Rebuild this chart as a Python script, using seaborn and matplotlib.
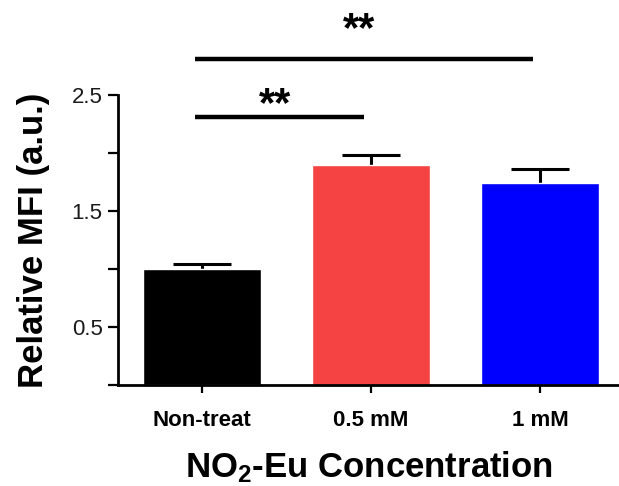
import matplotlib
matplotlib.use("Agg")
import matplotlib.pyplot as plt
import seaborn as sns
import pandas as pd

categories = ["Non-treat", "0.5 mM", "1 mM"]
values = [1.00, 1.90, 1.74]
errors = [0.04, 0.085, 0.12]
colors = ["#000000", "#F54343", "#0000FF"]
y_major = [0.5, 1.5, 2.5]
y_minor = [0.0, 1.0, 2.0]
sig_pairs = [(0, 1, 2.31, 2.41), (0, 2, 2.81, 3.06)]
sig_text = "**"

sns.set_theme(style="white")
plt.rcParams["font.family"] = ["Liberation Sans", "DejaVu Sans"]
plt.rcParams["text.color"] = "black"
plt.rcParams["axes.labelcolor"] = "black"
plt.rcParams["xtick.color"] = "black"
plt.rcParams["ytick.color"] = "black"
plt.rcParams["mathtext.fontset"] = "custom"
plt.rcParams["mathtext.bf"] = "Liberation Sans:bold"
plt.rcParams["mathtext.rm"] = "Liberation Sans:bold"
plt.rcParams["mathtext.default"] = "bf"

df = pd.DataFrame({"cat": categories, "val": values})

fig = plt.figure(figsize=(6.19, 4.86), dpi=100)
ax = fig.add_axes([118/619, 1-385/486, 1-118/619, (385-95)/486])

sns.barplot(data=df, x="cat", y="val", hue="cat", palette=colors, legend=False,
            width=0.70, ax=ax, errorbar=None, saturation=1, zorder=2)
ax.errorbar(range(len(categories)), values,
            yerr=[[0.02]*len(errors), errors], fmt="none", ecolor="black",
            elinewidth=2.2, capsize=21, capthick=2.2, zorder=1)

ax.set_ylim(0, 2.5)
ax.set_xlim(-0.497, 2.467)
ax.set_yticks(y_major)
ax.set_yticklabels([str(v) for v in y_major])
ax.set_yticks(y_minor, minor=True)

for s in ["top", "right"]:
    ax.spines[s].set_visible(False)
for s in ["left", "bottom"]:
    ax.spines[s].set_color("black")
    ax.spines[s].set_linewidth(2.0)

ax.tick_params(axis="y", which="both", direction="out", length=7, width=1.6,
               color="black", left=True, labelsize=16, pad=4, labelcolor="#1a1a1a")
ax.tick_params(axis="x", direction="out", length=6, width=1.6, color="black",
               bottom=True, labelsize=16, pad=12, labelcolor="black")
for lab in ax.get_xticklabels():
    lab.set_fontweight("bold")

ax.set_xlabel("NO$_2$-Eu Concentration", fontsize=25, fontweight="bold", labelpad=13)
ax.set_ylabel("Relative MFI (a.u.)", fontsize=25, fontweight="bold", labelpad=16)

for i, j, ly, ty in sig_pairs:
    ax.plot([i - 0.04, j - 0.04], [ly, ly], color="black", lw=3.2,
            clip_on=False, solid_capstyle="butt")
    ax.text((i + j) / 2 - 0.07, ty, sig_text, ha="center", va="center",
            fontsize=30, fontweight="bold", clip_on=False)

fig.savefig("out.png", dpi=100)
